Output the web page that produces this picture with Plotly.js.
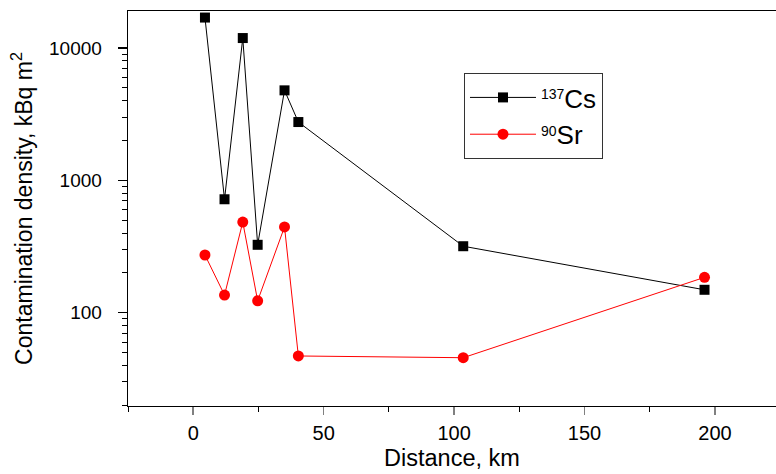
<!DOCTYPE html>
<html>
<head>
<meta charset="utf-8">
<script src="https://cdn.plot.ly/plotly-3.0.1.min.js"></script>
<style>
  html, body { margin: 0; padding: 0; background: #fff; overflow: hidden; }
  #chart { width: 776px; height: 474px; }
</style>
</head>
<body>
<div id="chart"></div>
<script>
// Distance from the source (km)
const distanceKm = [4.5, 12, 19, 24.7, 35, 40.3, 103.5, 196];

// Contamination density, kBq m^2
const cs137 = [17000, 720, 11900, 326, 4790, 2760, 318, 149];
const sr90  = [273, 136, 484, 123, 445, 47.1, 45.7, 185];

const seriesNames = [
  '<span style="font-size:20px"><sup>137</sup></span>Cs',
  '<span style="font-size:20px"><sup>90</sup></span>Sr'
];
const yTickVals = [100, 1000, 10000];
const yTickText = ['100', '1000', '10000'];

const FONT = 'Arial, "Liberation Sans", sans-serif';

const traces = [
  {
    x: distanceKm, y: cs137, name: seriesNames[0],
    type: 'scatter', mode: 'lines+markers',
    line: { color: '#000000', width: 1 },
    marker: { symbol: 'square', size: 10, color: '#000000' }
  },
  {
    x: distanceKm, y: sr90, name: seriesNames[1],
    type: 'scatter', mode: 'lines+markers',
    line: { color: '#ff0000', width: 1 },
    marker: { symbol: 'circle', size: 11, color: '#ff0000' }
  }
];

const layout = {
  width: 776, height: 474,
  margin: { l: 128, r: 0, t: 11, b: 68 },
  paper_bgcolor: '#ffffff', plot_bgcolor: '#ffffff',
  font: { family: FONT, color: '#000000' },
  showlegend: true,
  legend: {
    x: 0.5185, y: 0.843, xanchor: 'left', yanchor: 'top',
    bgcolor: '#ffffff', bordercolor: '#333333', borderwidth: 1,
    font: { family: FONT, size: 26, color: '#000000' },
    itemwidth: 66,
    tracegroupgap: 0
  },
  xaxis: {
    range: [-25, 223.4],
    dtick: 50, tick0: 0,
    ticks: 'outside', ticklen: 8, tickwidth: 1.5, tickcolor: '#808080',
    minor: { dtick: 25, ticks: 'outside', ticklen: 5, tickwidth: 1, tickcolor: '#000000', showgrid: false },
    showline: true, mirror: true, linecolor: '#000000', linewidth: 1.3,
    showgrid: false, zeroline: false,
    tickfont: { family: FONT, size: 20, color: '#000000' },
    ticklabelstandoff: 1,
    title: { text: 'Distance, km', font: { family: FONT, size: 23.5, color: '#000000' }, standoff: 6 }
  },
  yaxis: {
    type: 'log',
    range: [1.295, 4.28],
    tickvals: yTickVals, ticktext: yTickText,
    ticks: 'outside', ticklen: 9, tickwidth: 1.2, tickcolor: '#000000',
    minor: { dtick: 'D1', ticks: 'outside', ticklen: 5, tickwidth: 1, tickcolor: '#000000', showgrid: false },
    showline: true, mirror: false, linecolor: '#000000', linewidth: 1.3,
    showgrid: false, zeroline: false,
    tickfont: { family: FONT, size: 19, color: '#000000' },
    ticklabelstandoff: 12,
    title: { text: 'Contamination density, kBq m<sup>2</sup>', font: { family: FONT, size: 23, color: '#000000' }, standoff: 10 }
  }
};

Plotly.newPlot('chart', traces, layout, { displayModeBar: false, staticPlot: true });
</script>
</body>
</html>
